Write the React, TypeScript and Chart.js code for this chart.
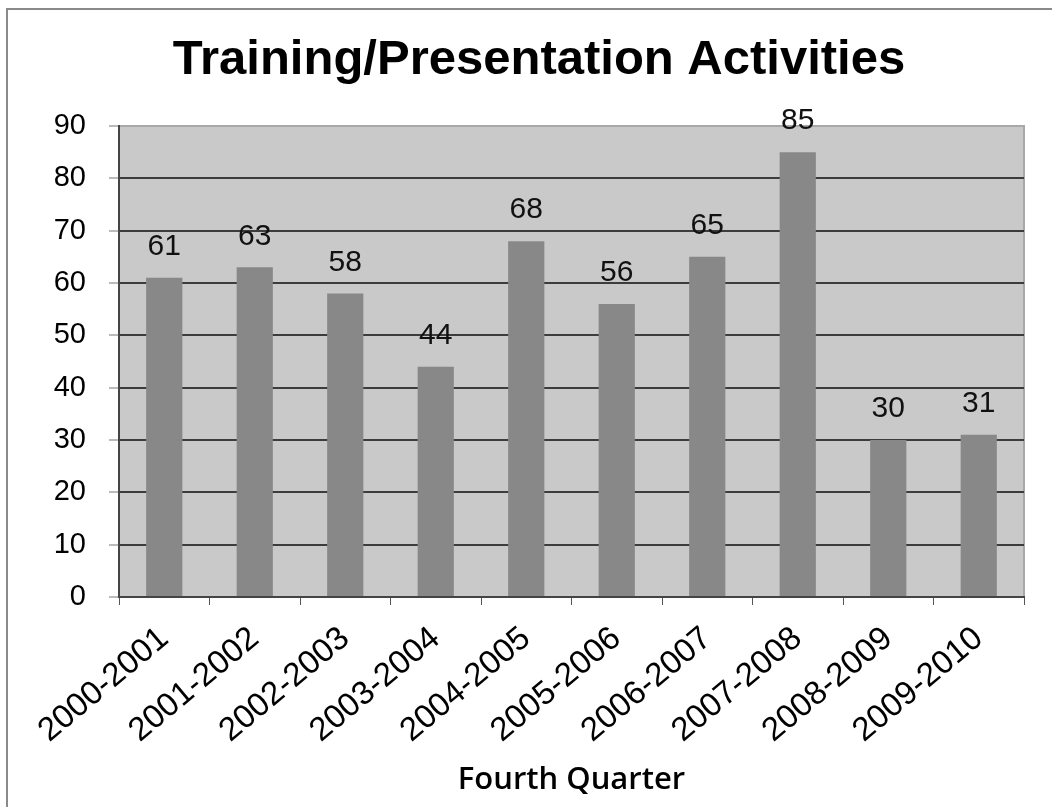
import React, { useEffect, useRef } from "react";
import { Chart, registerables } from "chart.js";

Chart.register(...registerables);

const categories = [
  "2000-2001", "2001-2002", "2002-2003", "2003-2004", "2004-2005",
  "2005-2006", "2006-2007", "2007-2008", "2008-2009", "2009-2010",
];
const activities = [61, 63, 58, 44, 68, 56, 65, 85, 30, 31];
const yTicks = [0, 10, 20, 30, 40, 50, 60, 70, 80, 90];
const chartTitle = "Training/Presentation Activities";

const FONT = "'Liberation Sans', Arial, sans-serif";

const framePlugin = {
  id: "frame",
  beforeDraw(chart: any) {
    const { ctx, chartArea } = chart;
    ctx.save();
    ctx.fillStyle = "#ffffff";
    ctx.fillRect(0, 0, chart.width, chart.height);
    ctx.strokeStyle = "#8a8a8a";
    ctx.lineWidth = 2;
    ctx.strokeRect(7, 9, chart.width + 20, chart.height + 20);
    ctx.fillStyle = "#c9c9c9";
    ctx.fillRect(chartArea.left, chartArea.top, chartArea.right - chartArea.left, chartArea.bottom - chartArea.top);
    ctx.strokeStyle = "#a8a8a8";
    ctx.lineWidth = 2;
    ctx.strokeRect(chartArea.left, chartArea.top, chartArea.right - chartArea.left, chartArea.bottom - chartArea.top);
    // title
    ctx.font = `bold 49px ${FONT}`;
    ctx.fillStyle = "#000000";
    ctx.textAlign = "center";
    ctx.textBaseline = "middle";
    ctx.fillText(chartTitle, 539, 60);
    ctx.restore();
  },
};

const labelPlugin = {
  id: "valueLabels",
  afterDatasetsDraw(chart: any) {
    const { ctx } = chart;
    const meta = chart.getDatasetMeta(0);
    const data = chart.data.datasets[0].data as number[];
    ctx.save();
    ctx.font = `30px ${FONT}`;
    ctx.fillStyle = "#111111";
    ctx.textAlign = "center";
    ctx.textBaseline = "bottom";
    meta.data.forEach((bar: any, i: number) => {
      ctx.fillText(String(data[i]), bar.x, bar.y - 16);
    });
    ctx.restore();
  },
};

export default function App() {
  const canvasRef = useRef<HTMLCanvasElement | null>(null);

  useEffect(() => {
    if (!canvasRef.current) return;
    const chart = new Chart(canvasRef.current, {
      type: "bar",
      data: {
        labels: categories,
        datasets: [
          {
            label: "Activities",
            data: activities,
            backgroundColor: "#888888",
            borderWidth: 0,
            categoryPercentage: 1,
            barPercentage: 0.4,
          },
        ],
      },
      options: {
        responsive: false,
        animation: false,
        layout: { padding: { left: 0, right: 28, top: 126, bottom: 0 } },
        plugins: {
          legend: { display: false },
          tooltip: { enabled: false },
          title: { display: false },
        },
        scales: {
          x: {
            grid: {
              drawOnChartArea: false,
              drawTicks: true,
              tickLength: 8,
              color: "#555555",
              lineWidth: 1,
            },
            border: { color: "#444444", width: 2 },
            ticks: {
              color: "#000000",
              font: { family: FONT, size: 33 },
              minRotation: 40,
              maxRotation: 40,
              padding: 14,
            },
            title: {
              display: true,
              text: "Fourth Quarter",
              color: "#000000",
              font: { family: "'Open Sans', 'Noto Sans', sans-serif", size: 31, weight: "600" },
              padding: { top: 0, bottom: 8 },
            },
            afterFit(scale: any) {
              scale.height = 210;
            },
          },
          y: {
            min: 0,
            max: 90,
            afterBuildTicks(scale: any) {
              scale.ticks = yTicks.map((v) => ({ value: v }));
            },
            grid: {
              color: (c: any) => (c.tick && c.tick.value === 90 ? "#a8a8a8" : "#3c3c3c"),
              lineWidth: 2,
              tickLength: 10,
              tickColor: "#777777",
              tickWidth: 1,
            },
            border: { color: "#444444", width: 2 },
            ticks: {
              color: "#000000",
              font: { family: FONT, size: 29 },
              padding: 23,
            },
            afterFit(scale: any) {
              scale.width = 119;
            },
          },
        },
      },
      plugins: [framePlugin, labelPlugin],
    });
    return () => chart.destroy();
  }, []);

  return (
    <div style={{ position: "absolute", left: 0, top: 0, width: 1052, height: 807 }}>
      <canvas ref={canvasRef} width={1052} height={807} />
    </div>
  );
}
